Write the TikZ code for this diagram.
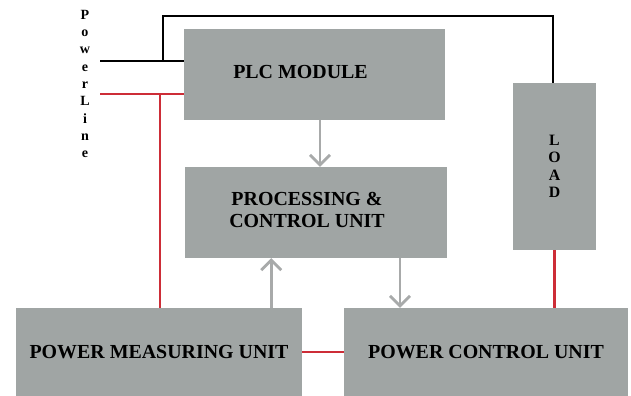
\documentclass[tikz,border=0pt]{standalone}
\usepackage{fontspec}
\setmainfont{Liberation Serif}
\usetikzlibrary{arrows.meta,calc}
\definecolor{boxgray}{RGB}{160,165,164}
\definecolor{flowgray}{RGB}{168,170,170}
\definecolor{wirered}{RGB}{205,45,55}

\begin{document}
\begin{tikzpicture}[x=0.03cm, y=-0.03cm,
		box/.style={rectangle, fill=boxgray, inner sep=0pt, font=\fontsize{17}{20}\selectfont\bfseries},
		flow/.style={draw=flowgray, line width=2.4pt, -{Straight Barb[length=0.3cm,width=0.6cm]}},
		live/.style={draw=black, line width=2.3pt},
		neutral/.style={draw=wirered, line width=2pt}]

	\useasboundingbox (0,0) rectangle (631,396);

	\node[box, minimum width=7.83cm, minimum height=2.73cm,
		label={[xshift=-0.42cm, yshift=0.08cm, font=\fontsize{17}{20}\selectfont\bfseries]center:PLC MODULE}]
		(plc) at (314.5,74.5) {};
	\node[box, minimum width=7.86cm, minimum height=2.73cm] (proc) at (316,212.5) {};
	\node[font=\fontsize{17}{19}\selectfont\bfseries, align=center] (proctext) at (307,210) {PROCESSING \&\\CONTROL UNIT};
	\node[box, minimum width=2.49cm, minimum height=5.01cm, align=center,
		font=\fontsize{13.5}{14.8}\selectfont\bfseries] (load) at (554.5,166.5) {L\\O\\A\\D};
	\node[box, minimum width=8.58cm, minimum height=2.64cm] (pmu) at (159,352) {POWER MEASURING UNIT};
	\node[box, minimum width=8.52cm, minimum height=2.64cm] (pcu) at (486,352) {POWER CONTROL UNIT};

	\node[align=center, font=\fontsize{12}{14.8}\selectfont\bfseries] (line) at (85,84) {P\\o\\w\\e\\r\\L\\i\\n\\e};

	% supply wires
	\coordinate (live in) at (100,61);
	\coordinate (neutral in) at (100,94);
	\coordinate (live tap) at (163,61);
	\coordinate (neutral tap) at (160,94);
	\coordinate (over) at (553,16);

	\draw[live] (live in) -- (live in -| plc.west);
	\draw[live] (live tap) |- (over) -- (over |- load.north);
	\draw[neutral] (neutral in) -- (neutral in -| plc.west);
	\draw[neutral] (neutral tap) -- (neutral tap |- pmu.north);
	\draw[neutral] (load.south) -- (load.south |- pcu.north);
	\draw[neutral] (pmu.east) -- (pcu.west);

	% data flow
	\coordinate (cmd) at ($(plc.south)+(5.5,0)$);
	\coordinate (meas) at ($(pmu.north east)+(-31,0)$);
	\coordinate (ctrl) at ($(proc.south)+(84,0)$);
	\draw[flow] (cmd) -- (cmd |- proc.north);
	\draw[flow] (meas) -- (meas |- proc.south);
	\draw[flow] (ctrl) -- (ctrl |- pcu.north);
\end{tikzpicture}
\end{document}
